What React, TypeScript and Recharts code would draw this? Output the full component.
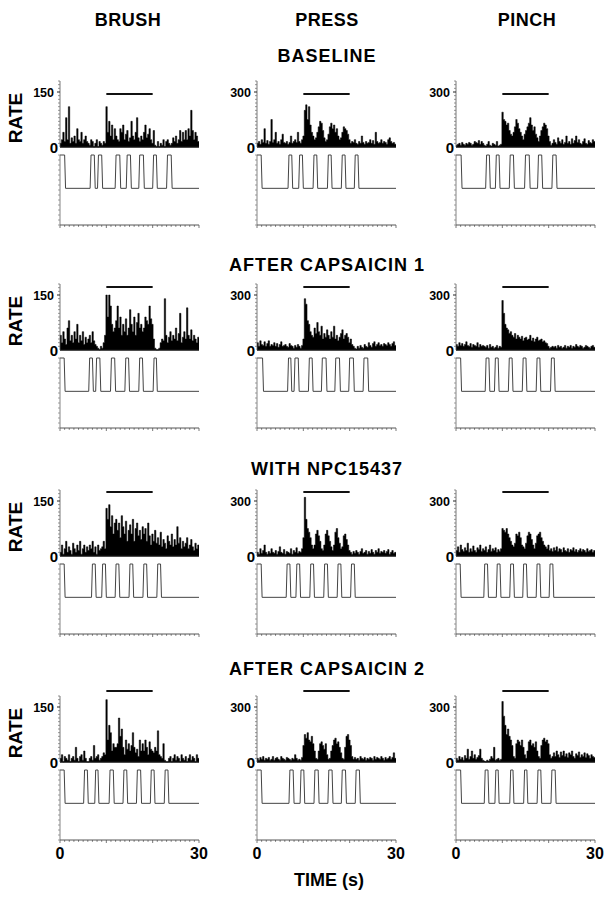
import React from "react";
import {
  ComposedChart,
  Area,
  XAxis,
  YAxis,
  ReferenceLine,
  LineChart,
  Line,
} from "recharts";

const BIN_S = 0.3;
const stimuli = ["BRUSH", "PRESS", "PINCH"];
const conditions = ["BASELINE", "AFTER CAPSAICIN 1", "WITH NPC15437", "AFTER CAPSAICIN 2"];
const rateTickLabels = [150, 300, 300];
const rateAxisMax = [180, 360, 360];
const stimulusPeriod = [10, 20];
const timeLabels = [0, 30];

// firing rate histograms, 100 bins of 0.3 s
const brushBaseline = [
  10, 20, 40, 15, 80, 20, 110, 10, 25, 15,
  30, 10, 50, 20, 15, 40, 10, 20, 30, 15,
  10, 5, 20, 15, 0, 10, 20, 0, 15, 10,
  5, 15, 10, 110, 40, 70, 30, 60, 20, 50,
  30, 20, 15, 50, 40, 60, 20, 35, 45, 15,
  25, 70, 30, 20, 40, 80, 25, 15, 30, 20,
  40, 60, 25, 35, 50, 20, 10, 45, 5, 0,
  15, 0, 10, 5, 20, 0, 15, 20, 10, 5,
  10, 25, 15, 30, 10, 20, 45, 15, 40, 20,
  45, 20, 50, 30, 100, 45, 20, 40, 30, 15,
];
const pressBaseline = [
  20, 30, 15, 40, 25, 100, 20, 35, 15, 30,
  150, 25, 40, 80, 20, 30, 15, 40, 70, 25,
  20, 30, 15, 25, 60, 20, 30, 40, 25, 80,
  30, 20, 40, 60, 200, 230, 150, 220, 120, 80,
  60, 40, 50, 80, 110, 140, 130, 90, 50, 30,
  40, 70, 110, 130, 100, 120, 80, 100, 60, 40,
  50, 80, 110, 100, 90, 70, 40, 20, 30, 25,
  40, 20, 15, 30, 20, 60, 25, 15, 30, 20,
  25, 40, 20, 35, 15, 80, 30, 20, 25, 40,
  20, 30, 25, 15, 40, 50, 30, 20, 25, 15,
];
const pinchBaseline = [
  10, 15, 20, 10, 25, 15, 10, 20, 15, 25,
  20, 10, 15, 30, 25, 20, 35, 15, 30, 20,
  10, 5, 15, 30, 10, 5, 20, 15, 10, 30,
  5, 10, 15, 190, 150, 140, 120, 130, 90, 70,
  60, 80, 110, 150, 130, 100, 80, 60, 40, 70,
  90, 110, 130, 160, 120, 90, 110, 70, 50, 30,
  60, 90, 110, 130, 120, 100, 60, 30, 10, 20,
  40, 25, 15, 50, 30, 20, 40, 15, 25, 60,
  20, 30, 15, 45, 20, 35, 60, 25, 40, 20,
  15, 30, 45, 20, 15, 35, 25, 20, 40, 30,
];
const brushCap1 = [
  40, 20, 50, 30, 15, 60, 80, 25, 40, 20,
  50, 30, 70, 20, 40, 25, 50, 15, 35, 20,
  30, 40, 20, 50, 25, 15, 10, 5, 0, 10,
  5, 20, 40, 150, 90, 150, 120, 70, 50, 60,
  80, 120, 60, 90, 40, 70, 50, 85, 40, 60,
  110, 70, 50, 90, 40, 75, 100, 60, 70, 50,
  60, 90, 80, 70, 120, 85, 70, 30, 5, 0,
  0, 5, 20, 30, 25, 140, 40, 20, 35, 50,
  25, 40, 30, 60, 25, 45, 100, 20, 35, 50,
  30, 115, 40, 30, 55, 25, 40, 30, 20, 35,
];
const pressCap1 = [
  40, 20, 50, 30, 25, 45, 20, 35, 50, 20,
  30, 25, 40, 20, 35, 15, 30, 45, 20, 25,
  30, 20, 15, 35, 25, 20, 10, 25, 15, 30,
  20, 10, 25, 60, 280, 250, 160, 140, 100, 80,
  70, 120, 90, 150, 100, 80, 130, 60, 90, 70,
  110, 80, 60, 100, 70, 130, 60, 80, 50, 70,
  90, 110, 60, 80, 90, 70, 40, 60, 30, 20,
  10, 5, 20, 10, 25, 15, 10, 30, 20, 15,
  40, 25, 15, 35, 45, 20, 30, 40, 25, 30,
  20, 35, 30, 25, 40, 30, 20, 35, 45, 25,
];
const pinchCap1 = [
  30, 20, 40, 25, 35, 20, 30, 45, 25, 20,
  35, 15, 30, 25, 20, 40, 15, 30, 20, 25,
  20, 15, 25, 10, 30, 15, 20, 10, 15, 25,
  10, 20, 15, 270, 200, 140, 120, 110, 90, 100,
  80, 70, 90, 60, 80, 70, 60, 75, 50, 65,
  70, 55, 60, 80, 50, 65, 45, 60, 70, 50,
  55, 60, 45, 50, 40, 35, 20, 10, 15, 20,
  15, 20, 10, 25, 15, 20, 10, 15, 25, 10,
  20, 15, 25, 10, 20, 15, 30, 20, 15, 25,
  20, 10, 15, 25, 20, 15, 10, 20, 25, 15,
];
const brushNpc = [
  10, 30, 5, 20, 40, 10, 25, 15, 5, 35,
  20, 10, 30, 15, 40, 5, 20, 30, 10, 25,
  15, 30, 20, 40, 10, 25, 5, 30, 15, 20,
  25, 40, 20, 130, 100, 140, 80, 110, 60, 90,
  100, 70, 90, 50, 110, 80, 60, 95, 40, 70,
  85, 60, 100, 40, 75, 90, 55, 70, 45, 80,
  60, 75, 40, 90, 55, 30, 60, 40, 70, 35,
  50, 30, 65, 25, 45, 35, 20, 55, 40, 30,
  60, 25, 45, 30, 80, 35, 50, 20, 40, 25,
  35, 50, 20, 30, 45, 25, 15, 35, 20, 30,
];
const pressNpc = [
  20, 10, 40, 15, 30, 60, 20, 10, 25, 15,
  40, 20, 15, 30, 10, 25, 50, 20, 15, 35,
  10, 25, 20, 15, 40, 10, 30, 20, 45, 15,
  25, 20, 40, 100, 320, 200, 150, 130, 100, 60,
  40, 60, 120, 140, 110, 80, 40, 30, 60, 120,
  140, 110, 80, 50, 30, 60, 130, 150, 100, 70,
  40, 50, 110, 120, 90, 60, 30, 20, 10, 25,
  15, 30, 20, 10, 25, 40, 15, 20, 30, 10,
  25, 15, 35, 20, 10, 30, 20, 40, 15, 25,
  20, 30, 15, 25, 35, 10, 20, 30, 15, 20,
];
const pinchNpc = [
  30, 50, 20, 60, 35, 25, 45, 30, 70, 20,
  40, 25, 55, 30, 20, 45, 35, 60, 25, 40,
  30, 50, 20, 35, 60, 25, 40, 30, 45, 20,
  35, 25, 40, 150, 140, 130, 150, 120, 100, 80,
  60, 50, 70, 120, 110, 130, 100, 60, 50, 40,
  70, 110, 130, 120, 90, 60, 40, 70, 110, 120,
  130, 100, 80, 60, 50, 40, 60, 30, 40, 25,
  45, 30, 50, 25, 40, 35, 20, 45, 30, 25,
  40, 20, 35, 30, 45, 25, 35, 20, 30, 40,
  25, 35, 30, 20, 40, 25, 30, 35, 20, 30,
];
const brushCap2 = [
  10, 20, 0, 15, 10, 5, 20, 0, 10, 15,
  5, 40, 10, 0, 15, 20, 5, 30, 10, 0,
  0, 10, 15, 5, 45, 10, 15, 20, 5, 10,
  15, 25, 20, 170, 60, 100, 80, 30, 50, 40,
  40, 50, 120, 70, 90, 40, 20, 60, 35, 50,
  30, 45, 80, 40, 25, 35, 15, 60, 30, 50,
  30, 60, 40, 20, 55, 35, 30, 25, 40, 30,
  85, 20, 15, 10, 50, 5, 0, 0, 10, 15,
  0, 10, 20, 5, 15, 10, 0, 20, 10, 5,
  15, 0, 10, 20, 5, 15, 10, 0, 20, 10,
];
const pressCap2 = [
  20, 10, 25, 15, 30, 10, 20, 15, 25, 10,
  15, 30, 10, 20, 25, 15, 10, 30, 20, 15,
  10, 25, 20, 15, 10, 20, 15, 40, 20, 10,
  15, 10, 25, 90, 150, 130, 160, 120, 110, 140,
  100, 60, 20, 15, 60, 100, 110, 90, 70, 100,
  40, 15, 20, 60, 90, 120, 130, 100, 110, 80,
  50, 20, 15, 80, 140, 150, 120, 90, 30, 15,
  25, 15, 20, 10, 30, 20, 15, 25, 10, 20,
  15, 25, 20, 10, 30, 15, 25, 20, 15, 30,
  20, 10, 25, 15, 20, 30, 15, 25, 50, 20,
];
const pinchCap2 = [
  20, 10, 30, 15, 25, 10, 35, 20, 70, 15,
  30, 60, 20, 40, 15, 25, 35, 70, 20, 10,
  5, 0, 10, 5, 15, 30, 20, 80, 10, 15,
  20, 10, 15, 330, 250, 200, 150, 180, 140, 120,
  90, 30, 20, 100, 120, 110, 90, 120, 80, 40,
  20, 60, 110, 120, 90, 100, 80, 110, 60, 30,
  20, 90, 120, 130, 110, 120, 100, 40, 20, 30,
  50, 30, 60, 40, 25, 55, 35, 60, 30, 45,
  25, 50, 40, 60, 30, 20, 45, 35, 55, 25,
  40, 30, 50, 25, 45, 35, 20, 40, 30, 25,
];

// stimulus pulses [on, off] in s
const brushBaselinePulses = [[0, 1.0], [6.5, 7.4], [8.1, 9.0], [11.9, 12.9], [14.3, 15.2], [17.0, 18.0], [20.0, 20.8], [23.0, 24.0]];
const pressBaselinePulses = [[0, 0.9], [6.7, 7.5], [9.0, 9.8], [12.1, 12.9], [15.2, 16.0], [18.2, 19.0], [21.0, 21.8]];
const pinchBaselinePulses = [[0, 1.1], [6.4, 7.2], [8.5, 9.3], [11.5, 12.4], [14.8, 15.8], [17.6, 18.5], [20.7, 21.6]];
const brushCap1Pulses = [[0, 0.9], [6.2, 7.0], [7.7, 8.6], [10.9, 11.8], [14.0, 14.8], [17.0, 17.8], [20.1, 20.8]];
const pressCap1Pulses = [[0, 1.2], [6.6, 7.3], [8.0, 8.9], [11.1, 11.9], [13.9, 14.9], [16.8, 17.8], [19.8, 20.8], [22.9, 23.9]];
const pinchCap1Pulses = [[0, 1.0], [6.3, 7.1], [8.3, 9.1], [11.3, 12.1], [14.3, 15.1], [17.3, 18.1], [20.4, 21.2]];
const brushNpcPulses = [[0, 0.9], [6.8, 7.6], [9.0, 9.8], [11.9, 12.7], [14.9, 15.7], [17.9, 18.7], [20.9, 21.7]];
const pressNpcPulses = [[0, 0.9], [6.3, 7.1], [8.4, 9.2], [11.4, 12.2], [14.4, 15.2], [17.3, 18.1], [20.2, 21.0]];
const pinchNpcPulses = [[0, 0.9], [6.0, 6.8], [8.7, 9.5], [11.6, 12.4], [14.4, 15.2], [17.3, 18.1], [20.1, 20.9]];
const brushCap2Pulses = [[0, 0.9], [5.1, 5.9], [7.5, 8.2], [10.6, 11.5], [13.6, 14.4], [16.5, 17.4], [19.5, 20.3], [22.5, 23.3]];
const pressCap2Pulses = [[0, 0.9], [6.9, 7.8], [9.3, 10.1], [12.3, 13.2], [15.3, 16.2], [18.2, 19.1], [21.2, 22.1]];
const pinchCap2Pulses = [[0, 1.0], [6.1, 6.9], [8.4, 9.1], [11.6, 12.3], [14.6, 15.3], [17.5, 18.3], [20.5, 21.4]];

const histograms = [
  [brushBaseline, pressBaseline, pinchBaseline],
  [brushCap1, pressCap1, pinchCap1],
  [brushNpc, pressNpc, pinchNpc],
  [brushCap2, pressCap2, pinchCap2],
];
const pulses = [
  [brushBaselinePulses, pressBaselinePulses, pinchBaselinePulses],
  [brushCap1Pulses, pressCap1Pulses, pinchCap1Pulses],
  [brushNpcPulses, pressNpcPulses, pinchNpcPulses],
  [brushCap2Pulses, pressCap2Pulses, pinchCap2Pulses],
];

// layout (px)
const COL_X = [60, 257, 456];
const HEADER_X = [128, 327, 527];
const ROW_ZERO = [147, 350, 556, 762];
const ROW_TITLE_Y = [56, 265, 469, 669];
const BAR_OFFSET = [53, 63, 64, 71];
const PLOT_W = 139;
const HIST_H = 66;
const TOP_M = 14;
const BOT_M = 10;
const RIGHT_M = 16;
const TRACE_GAP = 8;
const TRACE_H = 70;
const AXIS_W = 50;
const RAMP = 0.2;
const FONT = "'Liberation Sans', Arial, Helvetica, sans-serif";

function traceData(p: number[][]) {
  const pts: { t: number; y: number }[] = [];
  if (p[0][0] > 0) pts.push({ t: 0, y: 0 });
  p.forEach(([on, off]) => {
    if (on <= 0) {
      pts.push({ t: 0, y: 1 });
    } else {
      pts.push({ t: on, y: 0 });
      pts.push({ t: on + RAMP, y: 1 });
    }
    pts.push({ t: off, y: 1 });
    pts.push({ t: off + RAMP, y: 0 });
  });
  pts.push({ t: 30, y: 0 });
  return pts;
}

function RateTick(props: any) {
  const { x, y, payload, label } = props;
  const v = payload.value;
  if (v === 0) {
    return (
      <text x={x - 2} y={y + 5.5} textAnchor="end" fontSize={15} fontWeight="bold" fill="#000">
        0
      </text>
    );
  }
  if (v === label) {
    return (
      <g>
        <line x1={x - 3} y1={y} x2={x} y2={y} stroke="#222" />
        <text x={x - 6} y={y + 4.5} textAnchor="end" fontSize={12.5} fontWeight="bold" fill="#000">
          {v}
        </text>
      </g>
    );
  }
  return <line x1={x - 2} y1={y} x2={x} y2={y} stroke="#777" strokeWidth={0.8} />;
}

function MinorYTick(props: any) {
  const { x, y } = props;
  return <line x1={x - 2} y1={y} x2={x} y2={y} stroke="#888" strokeWidth={0.8} />;
}

function TimeTick(props: any) {
  const { x, y, payload, showLabels } = props;
  const v = payload.value;
  const major = v % 10 === 0;
  return (
    <g>
      <line x1={x} y1={y} x2={x} y2={y + (major ? 3 : 1.8)} stroke="#555" strokeWidth={0.8} />
      {showLabels && timeLabels.includes(v) && (
        <text x={x} y={y + 19} textAnchor="middle" fontSize={16} fontWeight="bold" fill="#000">
          {v}
        </text>
      )}
    </g>
  );
}

function Panel({ row, col }: { row: number; col: number }) {
  const values = histograms[row][col];
  // step histogram: each bin starts at i * BIN_S, closing point at 30 s
  const data = values.map((v, i) => ({ t: i * BIN_S, v }));
  data.push({ t: values.length * BIN_S, v: values[values.length - 1] });
  const max = rateAxisMax[col];
  const label = rateTickLabels[col];
  const barY = (BAR_OFFSET[row] * max) / HIST_H;
  const step = col === 0 ? 10 : 20;
  const yTicks = Array.from({ length: max / step + 1 }, (_, i) => i * step);
  const trace = traceData(pulses[row][col]);
  const left = COL_X[col] - AXIS_W;
  const zero = ROW_ZERO[row];
  const bottomRow = row === conditions.length - 1;
  const secTicks = Array.from({ length: 31 }, (_, i) => i);
  const traceTicks = Array.from({ length: 15 }, (_, i) => -1.1 + i * 0.15);

  return (
    <>
      <div style={{ position: "absolute", left, top: zero - HIST_H - TOP_M }}>
        <ComposedChart
          width={AXIS_W + PLOT_W + RIGHT_M}
          height={HIST_H + TOP_M + BOT_M}
          data={data}
          margin={{ top: TOP_M, right: RIGHT_M, bottom: BOT_M, left: 0 }}
        >
          <XAxis dataKey="t" type="number" domain={[0, 30]} hide height={0} />
          <YAxis
            type="number"
            domain={[0, max]}
            ticks={yTicks}
            interval={0}
            width={AXIS_W}
            tickSize={0}
            tickMargin={0}
            tickLine={false}
            axisLine={{ stroke: "#555", strokeWidth: 0.8 }}
            tick={(p: any) => <RateTick {...p} label={label} />}
          />
          <Area
            dataKey="v"
            type="stepAfter"
            fill="#000"
            fillOpacity={1}
            stroke="#000"
            strokeWidth={0.5}
            baseValue={0}
            dot={false}
            activeDot={false}
            isAnimationActive={false}
          />
          <ReferenceLine y={0} stroke="#111" strokeWidth={1.4} />
          <ReferenceLine
            segment={[
              { x: stimulusPeriod[0], y: barY },
              { x: stimulusPeriod[1], y: barY },
            ]}
            ifOverflow="visible"
            stroke="#111"
            strokeWidth={1.8}
          />
        </ComposedChart>
      </div>
      <div style={{ position: "absolute", left, top: zero + TRACE_GAP - 2 }}>
        <LineChart
          width={AXIS_W + PLOT_W + RIGHT_M}
          height={TRACE_H + 26}
          data={trace}
          margin={{ top: 2, right: RIGHT_M, bottom: 0, left: 0 }}
        >
          <XAxis
            dataKey="t"
            type="number"
            domain={[0, 30]}
            ticks={secTicks}
            interval={0}
            height={24}
            tickSize={0}
            tickMargin={0}
            tickLine={false}
            axisLine={{ stroke: "#444", strokeWidth: 0.9 }}
            tick={(p: any) => <TimeTick {...p} showLabels={bottomRow} />}
          />
          <YAxis
            type="number"
            domain={[-1.1, 1]}
            ticks={traceTicks}
            interval={0}
            width={AXIS_W}
            tickSize={0}
            tickMargin={0}
            tickLine={false}
            axisLine={{ stroke: "#666", strokeWidth: 0.8 }}
            tick={(p: any) => <MinorYTick {...p} />}
          />
          <Line
            dataKey="y"
            type="linear"
            stroke="#444"
            strokeWidth={1}
            dot={false}
            isAnimationActive={false}
          />
        </LineChart>
      </div>
    </>
  );
}

export default function App() {
  return (
    <div
      style={{
        position: "absolute",
        left: 0,
        top: 0,
        width: 613,
        height: 899,
        background: "#fff",
        fontFamily: FONT,
      }}
    >
      <svg width={613} height={899} style={{ position: "absolute", left: 0, top: 0 }}>
        {stimuli.map((s, i) => (
          <text
            key={s}
            x={HEADER_X[i]}
            y={20}
            textAnchor="middle"
            dominantBaseline="central"
            fontSize={18}
            fontWeight="bold"
            letterSpacing={0.5}
            fill="#000"
          >
            {s}
          </text>
        ))}
        {conditions.map((c, r) => (
          <g key={c}>
            <text
              x={327}
              y={ROW_TITLE_Y[r]}
              textAnchor="middle"
              dominantBaseline="central"
              fontSize={18}
              fontWeight="bold"
              letterSpacing={1}
              fill="#000"
            >
              {c}
            </text>
            <text
              x={15}
              y={ROW_ZERO[r] - 29}
              textAnchor="middle"
              dominantBaseline="central"
              fontSize={19}
              fontWeight="bold"
              fill="#000"
              transform={`rotate(-90 15 ${ROW_ZERO[r] - 29})`}
            >
              RATE
            </text>
          </g>
        ))}
        <text
          x={329}
          y={880}
          textAnchor="middle"
          dominantBaseline="central"
          fontSize={18}
          fontWeight="bold"
          fill="#000"
        >
          TIME (s)
        </text>
      </svg>
      {conditions.map((_, r) =>
        stimuli.map((__, c) => <Panel key={`${r}-${c}`} row={r} col={c} />)
      )}
    </div>
  );
}
